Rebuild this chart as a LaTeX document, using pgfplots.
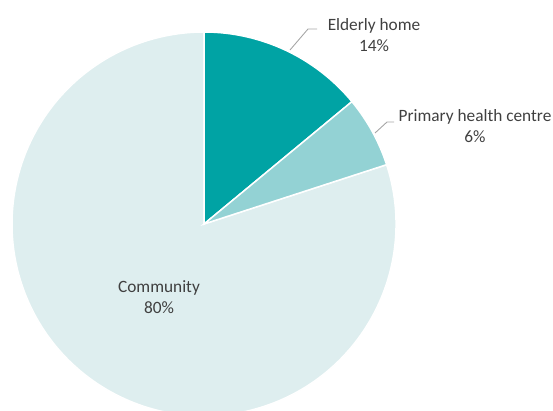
\documentclass[border=0pt]{standalone}
\usepackage{pgfplots}
\pgfplotsset{compat=1.18}
\usepackage{pgfplotstable}
\usepackage{fontspec}
\setmainfont{Carlito}
\definecolor{sliceA}{RGB}{0,163,164}
\definecolor{sliceB}{RGB}{147,210,212}
\definecolor{sliceC}{RGB}{222,238,239}
\definecolor{txt}{RGB}{64,64,64}
\definecolor{leader}{RGB}{166,166,166}
\pgfplotstableread{
label value
Elderly 14
Primary 6
Community 80
}\piedata
\pgfplotstablegetelem{0}{value}\of\piedata \let\va\pgfplotsretval
\pgfplotstablegetelem{1}{value}\of\piedata \let\vb\pgfplotsretval
\pgfplotstablegetelem{2}{value}\of\piedata \let\vc\pgfplotsretval
\pgfmathsetmacro{\tot}{\va+\vb+\vc}
\pgfmathsetmacro{\aA}{90}
\pgfmathsetmacro{\aB}{90-(360/\tot)*\va}
\pgfmathsetmacro{\aC}{\aB-(360/\tot)*\vb}
\pgfmathsetmacro{\aD}{\aC-(360/\tot)*\vc}
\begin{document}
\begin{tikzpicture}
\begin{axis}[
  scale only axis, width=553pt, height=410pt,
  xmin=0, xmax=553, ymin=0, ymax=410,
  hide axis, clip=true,
]
\path (axis cs:0,0) rectangle (axis cs:553,410);
\fill[sliceC, draw=white, line width=1.5pt] (axis cs:204,186) -- ++(\aC:192pt) arc[start angle=\aC, end angle=\aD, radius=192pt] -- cycle;
\fill[sliceA, draw=white, line width=1.5pt] (axis cs:204,186) -- ++(\aA:192pt) arc[start angle=\aA, end angle=\aB, radius=192pt] -- cycle;
\fill[sliceB, draw=white, line width=1.5pt] (axis cs:204,186) -- ++(\aB:192pt) arc[start angle=\aB, end angle=\aC, radius=192pt] -- cycle;
\draw[leader, line width=0.9pt] (axis cs:290,360) -- (axis cs:308,381) -- (axis cs:317,381);
\draw[leader, line width=0.9pt] (axis cs:375,277) -- (axis cs:387,288) -- (axis cs:394,288);
\node[txt, align=center, font=\fontsize{17.3}{21}\selectfont] at (axis cs:374,375) {Elderly home\\14\%};
\node[txt, align=center, font=\fontsize{17.3}{21}\selectfont] at (axis cs:475,284) {Primary health centre\\6\%};
\node[txt, align=center, font=\fontsize{17.3}{21}\selectfont] at (axis cs:159,112.5) {Community\\80\%};
\end{axis}
\end{tikzpicture}
\end{document}
